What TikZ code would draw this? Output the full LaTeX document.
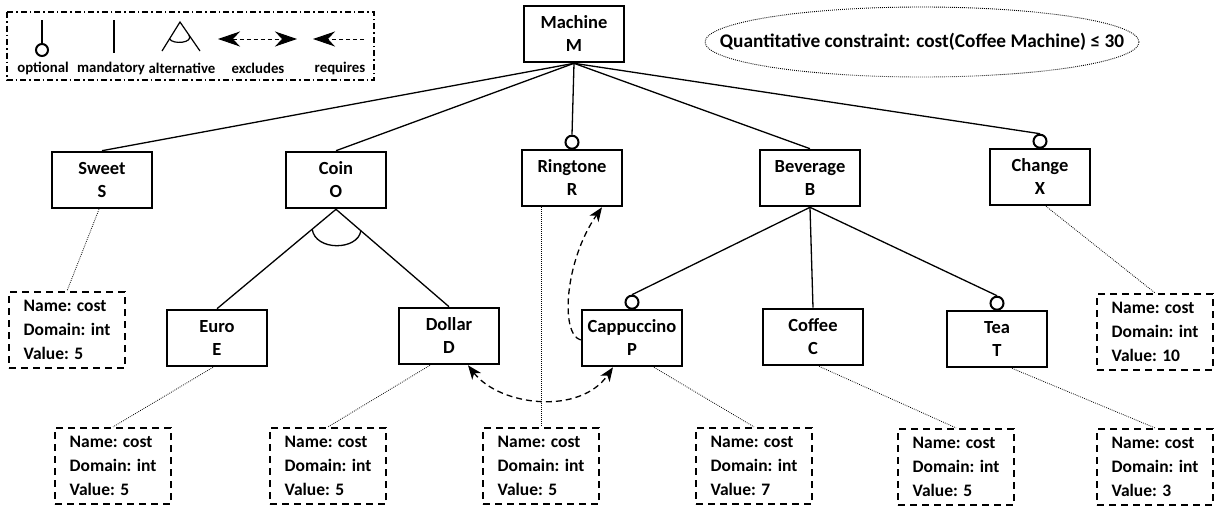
\documentclass[tikz,border=0pt]{standalone}
\usepackage{fontspec}
\setmainfont{Carlito}
\usetikzlibrary{arrows.meta,calc}
\tikzset{
  ctip/.tip={Stealth[length=14pt,width=11pt,inset=4pt]},
  legtip/.tip={Stealth[length=22pt,width=15pt,inset=7pt]}
}
\begin{document}
\begin{tikzpicture}[x=1pt,y=-1pt,
  feat/.style={draw,line width=2.6pt,minimum width=100pt,minimum height=56pt,align=center,inner sep=0pt,font=\bfseries\fontsize{18.5}{23}\selectfont},
  attr/.style={draw,line width=2.2pt,dash pattern=on 7pt off 5pt,minimum width=116pt,minimum height=76pt,align=left,inner sep=0pt,font=\bfseries\fontsize{17.5}{24}\selectfont},
  tree/.style={line width=1.3pt},
  link/.style={line width=0.8pt,dash pattern=on 0.8pt off 1.2pt},
  opt/.style={circle,draw,line width=2pt,fill=white,inner sep=0pt,minimum size=13pt},
  cons/.style={dash pattern=on 6pt off 4pt,line width=1.3pt},
  legtext/.style={font=\bfseries\fontsize{14.8}{16}\selectfont,inner sep=0pt}
]
\useasboundingbox (0,0) rectangle (1219,509);

% legend
\draw[line width=2pt,dash pattern=on 6pt off 3pt on 1.5pt off 3pt] (7,12) rectangle (374,80);
\coordinate (lo1) at (42,20);
\node[opt,minimum size=12pt] (lo2) at (42,50) {};
\draw[line width=1.5pt] (lo1) -- (lo2.north);
\coordinate (lm1) at (114,20);
\coordinate (lm2) at (114,53);
\draw[line width=1.2pt] (lm1) -- (lm2);
\coordinate (la) at (180,22);
\coordinate (lal) at (162,51);
\coordinate (lar) at (200,51);
\draw[line width=1.2pt] (lal) -- (la) -- (lar);
\draw[line width=1.2pt] ($(la)!0.58!(lal)$) .. controls +(3,6) and +(5,8) .. ($(la)!0.45!(lar)$);
\coordinate (le1) at (218,39);
\coordinate (le2) at (297,39);
\draw[dash pattern=on 4pt off 3pt,line width=1pt,{legtip}-{legtip}] (le1) -- (le2);
\coordinate (lr1) at (364,39);
\coordinate (lr2) at (313,39);
\draw[dash pattern=on 4pt off 3pt,line width=1pt,-{legtip}] (lr1) -- (lr2);
\node[legtext] (lopt) at (43,68) {optional};
\node[legtext] (lman) at (111,68) {mandatory};
\node[legtext] (lalt) at (182,68) {alternative};
\node[legtext] (lexc) at (258,68) {excludes};
\node[legtext] (lreq) at (340,68) {requires};

% constraint
\node[font=\bfseries\fontsize{19.3}{23}\selectfont,inner sep=0pt] (Q) at (922,42) {Quantitative constraint: cost(Coffee Machine) ≤ 30};
\draw[line width=0.9pt,dash pattern=on 0.9pt off 1.1pt] (Q.center) ellipse [x radius=217, y radius=35];

% features
\node[feat] (M) at (574,34) {Machine\\M};
\node[feat] (S) at (102,180) {Sweet\\S};
\node[feat] (O) at (336,180) {Coin\\O};
\node[feat] (R) at (572,178) {Ringtone\\R};
\node[feat] (B) at (810,178) {Beverage\\B};
\node[feat] (X) at (1040,177) {Change\\X};
\node[feat] (E) at (217,338) {Euro\\E};
\node[feat] (D) at (449,336) {Dollar\\D};
\node[feat] (P) at (632,338) {Cappuccino\\P};
\node[feat] (C) at (813,337) {Coffee\\C};
\node[feat] (T) at (997,339) {Tea\\T};

\node[opt,anchor=south,yshift=-1pt] (oR) at (R.north) {};
\node[opt,anchor=south,yshift=-1pt] (oX) at (X.north) {};
\node[opt,anchor=south,yshift=-1pt] (oP) at (P.north) {};
\node[opt,anchor=south,yshift=-1pt] (oT) at (T.north) {};

% attributes
\node[attr] (aS) at (67,330) {Name: cost\\Domain: int\\Value: 5};
\node[attr] (aX) at (1155,332) {Name: cost\\Domain: int\\Value: 10};
\node[attr] (aE) at (113,466) {Name: cost\\Domain: int\\Value: 5};
\node[attr] (aD) at (328,466) {Name: cost\\Domain: int\\Value: 5};
\node[attr] (aR) at (541,466) {Name: cost\\Domain: int\\Value: 5};
\node[attr] (aP) at (754,466) {Name: cost\\Domain: int\\Value: 7};
\node[attr] (aC) at (956,467) {Name: cost\\Domain: int\\Value: 5};
\node[attr] (aT) at (1155,467) {Name: cost\\Domain: int\\Value: 3};

% tree edges
\draw[tree] (M.south) -- (S.north);
\draw[tree] (M.south) -- (O.north);
\draw[tree] (M.south) -- (oR.north);
\draw[tree] (M.south) -- (B.north);
\draw[tree] (M.south) -- (oX.north);
\draw[tree] (O.south) -- (E.north);
\draw[tree] (O.south) -- (D.north);
\draw[tree] (B.south) -- (oP.north);
\draw[tree] (B.south) -- (C.north);
\draw[tree] (B.south) -- (oT.north);
\draw[tree] ($(O.south)!0.2!(E.north)$) .. controls +(3,22) and +(-3,20) .. ($(O.south)!0.22!(D.north)$);

% attribute links
\draw[link] ([xshift=-3pt]S.south) -- (aS.north);
\draw[link] ([xshift=-4pt]E.south) -- (aE.north);
\draw[link] ([xshift=-19pt]D.south) -- (aD.north);
\draw[link] (R.south -| aR.north) -- (aR.north);
\draw[link] ([xshift=22pt]P.south) -- (aP.north);
\draw[link] ([xshift=6pt]C.south) -- (aC.north);
\draw[link] ([xshift=15pt]T.south) -- (aT.north);
\draw[link] ([xshift=6pt]X.south) -- (aX.north);

% cross-tree constraints
\draw[cons,-{ctip}] ([yshift=-2pt]P.west) .. controls +(-21,-6) and +(-37,53) .. ([xshift=30pt]R.south);
\draw[cons,{ctip}-{ctip}] ([xshift=19pt]D.south) .. controls +(32,41) and +(-33,48) .. ([xshift=-19pt]P.south);
\end{tikzpicture}
\end{document}
